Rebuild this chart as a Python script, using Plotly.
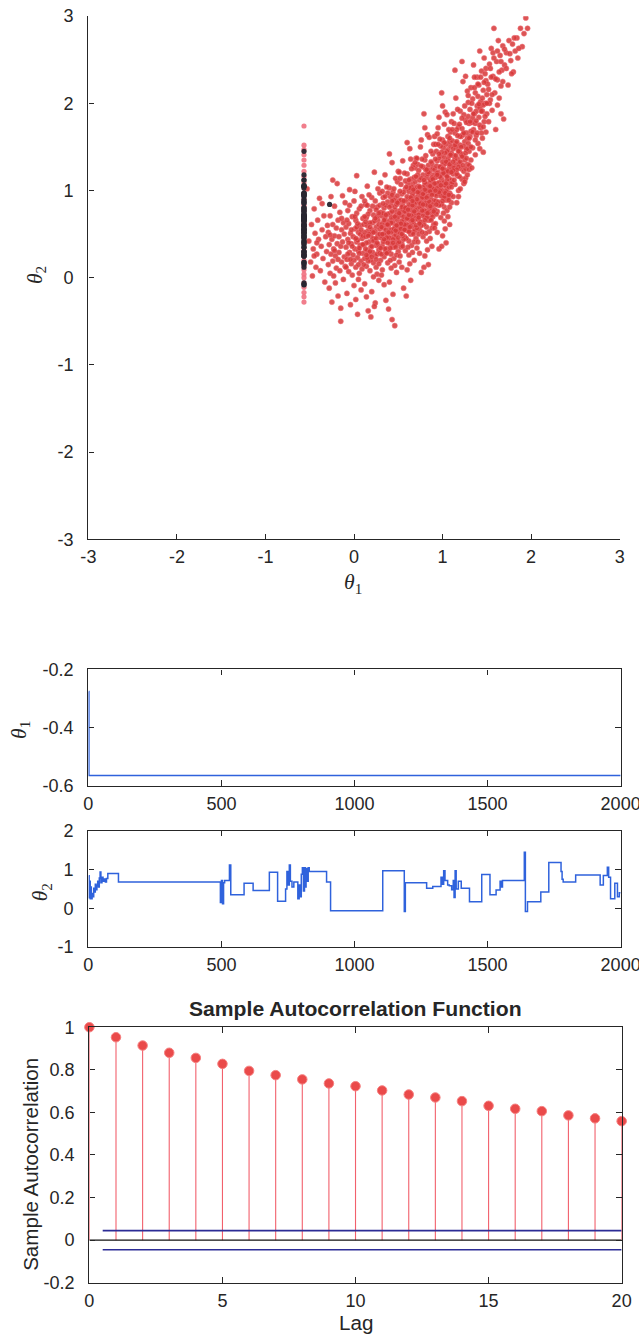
import plotly.graph_objects as go

# ---------------- posterior draws (theta1, theta2), grouped in theta1 bands ----------------
draws_band_a = [(-0.51, 0.42), (-0.49, 0.18), (-0.48, 0.61), (-0.47, 0.02), (-0.46, 0.33), (-0.45, 0.79),
                (-0.44, 0.51), (-0.43, 0.12), (-0.42, 0.27), (-0.41, 0.66), (-0.40, 0.44), (-0.39, 0.91),
                (-0.38, 0.08), (-0.37, 0.36), (-0.36, 0.55), (-0.35, 0.22), (-0.34, 0.71), (-0.33, -0.05),
                (-0.32, 0.47), (-0.31, 0.30), (-0.53, 1.02), (-0.45, 0.25), (-0.36, 0.85), (-0.30, 0.60),
                (-0.42, 0.40)]
draws_band_b = [(-0.29, 0.15), (-0.29, 0.52), (-0.28, -0.12), (-0.28, 0.38), (-0.27, 0.71), (-0.27, 0.05),
                (-0.26, 0.27), (-0.26, 0.93), (-0.25, 0.44), (-0.25, -0.28), (-0.24, 0.19), (-0.24, 0.61),
                (-0.23, 0.33), (-0.23, 0.02), (-0.22, 0.48), (-0.22, 0.82), (-0.21, 0.25), (-0.21, -0.06),
                (-0.20, 0.57), (-0.20, 0.11), (-0.19, 0.39), (-0.19, 1.08), (-0.18, 0.66), (-0.18, -0.21),
                (-0.17, 0.29), (-0.17, 0.47), (-0.16, 0.08), (-0.16, 0.75), (-0.15, 0.36), (-0.15, -0.35),
                (-0.14, 0.55), (-0.14, 0.18), (-0.13, 0.94), (-0.13, 0.41), (-0.12, -0.02), (-0.12, 0.63),
                (-0.11, 0.24), (-0.11, 0.50), (-0.10, 0.13), (-0.10, 0.86), (-0.27, 0.49), (-0.22, 0.31),
                (-0.18, 0.21), (-0.14, 0.68), (-0.24, 1.12), (-0.15, -0.50)]
draws_band_c = [(-0.09, 0.35), (-0.09, 0.58), (-0.08, -0.18), (-0.08, 0.21), (-0.07, 0.77), (-0.07, 0.44),
                (-0.06, 0.07), (-0.06, 0.62), (-0.05, 0.29), (-0.05, 1.01), (-0.04, 0.51), (-0.04, -0.31),
                (-0.03, 0.16), (-0.03, 0.39), (-0.02, 0.70), (-0.02, 0.03), (-0.01, 0.47), (-0.01, 0.26),
                (0.00, 0.88), (0.00, -0.09), (0.01, 0.33), (0.01, 0.56), (0.02, 0.12), (0.02, 0.66),
                (0.03, 0.41), (0.03, 1.17), (0.04, 0.23), (0.04, -0.42), (0.05, 0.52), (0.05, 0.31),
                (0.06, 0.79), (0.06, 0.05), (0.07, 0.37), (0.07, 0.60), (0.08, -0.14), (0.08, 0.19),
                (0.09, 0.45), (0.09, 0.93), (0.10, 0.28), (0.10, 0.68), (-0.09, 0.12), (-0.06, 0.40),
                (-0.03, 0.55), (0.00, 0.20), (0.03, 0.74), (0.06, 0.34), (0.09, 0.10), (-0.05, 0.83),
                (0.02, -0.25), (0.07, 0.50), (-0.08, 0.66), (0.04, 0.43), (0.01, 0.99), (-0.02, 0.36),
                (0.08, 0.82), (-0.04, 0.21), (0.05, -0.02), (0.10, 0.48), (-0.07, 0.27), (0.03, 0.58)]
draws_band_d = [(0.11, 0.38), (0.11, 0.61), (0.12, -0.07), (0.12, 0.22), (0.13, 0.84), (0.13, 0.47),
                (0.14, 0.13), (0.14, 0.69), (0.15, 0.31), (0.15, 1.05), (0.16, 0.54), (0.16, -0.38),
                (0.17, 0.26), (0.17, 0.41), (0.18, 0.77), (0.18, 0.08), (0.19, 0.50), (0.19, 0.35),
                (0.20, 0.92), (0.20, -0.16), (0.21, 0.29), (0.21, 0.63), (0.22, 0.17), (0.22, 0.72),
                (0.23, 0.44), (0.23, 1.21), (0.24, 0.25), (0.24, -0.29), (0.25, 0.58), (0.25, 0.37),
                (0.26, 0.81), (0.26, 0.04), (0.27, 0.49), (0.27, 0.66), (0.28, -0.03), (0.28, 0.32),
                (0.29, 0.56), (0.29, 0.97), (0.30, 0.20), (0.30, 0.75), (0.11, 0.15), (0.13, 0.33),
                (0.15, 0.60), (0.17, 0.95), (0.19, 0.20), (0.21, 0.45), (0.23, 0.65), (0.25, 0.12),
                (0.27, 0.38), (0.29, 0.83), (0.12, 0.52), (0.14, 0.40), (0.16, 0.73), (0.18, 0.30),
                (0.20, 0.55), (0.22, 0.42), (0.24, 0.88), (0.26, 0.27), (0.28, 0.61), (0.30, 0.46),
                (0.12, 0.88), (0.14, -0.22), (0.16, 0.19), (0.18, 0.63), (0.20, 0.36), (0.22, 0.01),
                (0.24, 0.53), (0.26, 0.70), (0.28, 0.16), (0.30, 1.09), (0.13, 0.64), (0.17, 0.50),
                (0.21, 0.82), (0.25, 0.45), (0.29, 0.28), (0.19, -0.45), (0.23, -0.33), (0.27, 1.02),
                (0.15, 0.23), (0.25, 0.78)]
draws_band_e = [(0.31, 0.48), (0.31, 0.71), (0.32, 0.09), (0.32, 0.36), (0.33, 0.92), (0.33, 0.57),
                (0.34, 0.24), (0.34, 0.80), (0.35, 0.42), (0.35, 1.18), (0.36, 0.63), (0.36, -0.26),
                (0.37, 0.33), (0.37, 0.51), (0.38, 0.87), (0.38, 0.17), (0.39, 0.60), (0.39, 0.45),
                (0.40, 1.03), (0.40, -0.05), (0.41, 0.39), (0.41, 0.74), (0.42, 0.27), (0.42, 0.83),
                (0.43, 0.54), (0.43, 1.32), (0.44, 0.35), (0.44, -0.19), (0.45, 0.68), (0.45, 0.47),
                (0.46, 0.91), (0.46, 0.14), (0.47, 0.59), (0.47, 0.77), (0.48, 0.06), (0.48, 0.43),
                (0.49, 0.66), (0.49, 1.10), (0.50, 0.30), (0.50, 0.86), (0.31, 0.27), (0.33, 0.41),
                (0.35, 0.68), (0.37, 1.04), (0.39, 0.30), (0.41, 0.55), (0.43, 0.76), (0.45, 0.22),
                (0.47, 0.49), (0.49, 0.94), (0.32, 0.62), (0.34, 0.50), (0.36, 0.83), (0.38, 0.40),
                (0.40, 0.65), (0.42, 0.52), (0.44, 0.98), (0.46, 0.37), (0.48, 0.72), (0.50, 0.57),
                (0.32, 0.99), (0.34, -0.08), (0.36, 0.29), (0.38, 0.73), (0.40, 0.46), (0.42, 0.11),
                (0.44, 0.63), (0.46, 0.81), (0.48, 0.26), (0.50, 1.22), (0.33, 0.74), (0.37, 0.61),
                (0.41, 0.93), (0.45, 0.56), (0.49, 0.39), (0.39, -0.36), (0.43, -0.48), (0.47, 1.14),
                (0.35, 0.33), (0.45, 0.89), (0.46, -0.55), (0.40, 1.42), (0.36, 0.55), (0.42, 0.69),
                (0.48, 0.84), (0.44, 0.44), (0.38, 0.97), (0.31, 0.03), (0.50, 0.70), (0.47, 0.35),
                (0.34, 0.66), (0.41, 0.20), (0.49, 0.53), (0.43, 0.88), (0.37, 0.46)]
draws_band_f = [(0.51, 0.62), (0.51, 0.88), (0.52, 0.25), (0.52, 0.51), (0.53, 1.07), (0.53, 0.72),
                (0.54, 0.39), (0.54, 0.96), (0.55, 0.58), (0.55, 1.34), (0.56, 0.79), (0.56, -0.12),
                (0.57, 0.47), (0.57, 0.66), (0.58, 1.02), (0.58, 0.31), (0.59, 0.75), (0.59, 0.60),
                (0.60, 1.19), (0.60, 0.09), (0.61, 0.54), (0.61, 0.90), (0.62, 0.42), (0.62, 0.99),
                (0.63, 0.69), (0.63, 1.48), (0.64, 0.50), (0.64, -0.03), (0.65, 0.84), (0.65, 0.63),
                (0.66, 1.07), (0.66, 0.29), (0.67, 0.74), (0.67, 0.93), (0.68, 0.20), (0.68, 0.57),
                (0.69, 0.81), (0.69, 1.26), (0.70, 0.45), (0.70, 1.02), (0.51, 0.41), (0.53, 0.56),
                (0.55, 0.83), (0.57, 1.20), (0.59, 0.45), (0.61, 0.70), (0.63, 0.91), (0.65, 0.37),
                (0.67, 0.64), (0.69, 1.10), (0.52, 0.77), (0.54, 0.65), (0.56, 0.98), (0.58, 0.55),
                (0.60, 0.80), (0.62, 0.67), (0.64, 1.13), (0.66, 0.52), (0.68, 0.87), (0.70, 0.72),
                (0.52, 1.14), (0.54, 0.12), (0.56, 0.44), (0.58, 0.88), (0.60, 0.61), (0.62, 0.26),
                (0.64, 0.78), (0.66, 0.96), (0.68, 0.41), (0.70, 1.37), (0.53, 0.89), (0.57, 0.76),
                (0.61, 1.08), (0.65, 0.71), (0.69, 0.54), (0.59, -0.21), (0.63, 0.16), (0.67, 1.29),
                (0.55, 0.48), (0.65, 1.04), (0.51, 0.18), (0.60, 1.55), (0.56, 0.70), (0.62, 0.84),
                (0.68, 0.99), (0.64, 0.59), (0.58, 1.11), (0.51, 1.21), (0.70, 0.86), (0.67, 0.50),
                (0.54, 0.81), (0.61, 0.35), (0.69, 0.68), (0.63, 1.03), (0.57, 0.61), (0.66, 0.83),
                (0.60, 0.93), (0.53, 0.35), (0.68, 1.15), (0.62, 0.53)]
draws_band_g = [(0.71, 0.78), (0.71, 1.04), (0.72, 0.41), (0.72, 0.67), (0.73, 1.23), (0.73, 0.88),
                (0.74, 0.55), (0.74, 1.12), (0.75, 0.74), (0.75, 1.50), (0.76, 0.95), (0.76, 0.06),
                (0.77, 0.63), (0.77, 0.82), (0.78, 1.18), (0.78, 0.47), (0.79, 0.91), (0.79, 0.76),
                (0.80, 1.35), (0.80, 0.25), (0.81, 0.70), (0.81, 1.06), (0.82, 0.58), (0.82, 1.15),
                (0.83, 0.85), (0.83, 1.64), (0.84, 0.66), (0.84, 0.15), (0.85, 1.00), (0.85, 0.79),
                (0.86, 1.23), (0.86, 0.45), (0.87, 0.90), (0.87, 1.09), (0.88, 0.36), (0.88, 0.73),
                (0.89, 0.97), (0.89, 1.42), (0.90, 0.61), (0.90, 1.18), (0.71, 0.57), (0.73, 0.72),
                (0.75, 0.99), (0.77, 1.36), (0.79, 0.61), (0.81, 0.86), (0.83, 1.07), (0.85, 0.53),
                (0.87, 0.80), (0.89, 1.26), (0.72, 0.93), (0.74, 0.81), (0.76, 1.14), (0.78, 0.71),
                (0.80, 0.96), (0.82, 0.83), (0.84, 1.29), (0.86, 0.68), (0.88, 1.03), (0.90, 0.88),
                (0.72, 1.30), (0.74, 0.28), (0.76, 0.60), (0.78, 1.04), (0.80, 0.77), (0.82, 0.42),
                (0.84, 0.94), (0.86, 1.12), (0.88, 0.57), (0.90, 1.53), (0.73, 1.05), (0.77, 0.92),
                (0.81, 1.24), (0.85, 0.87), (0.89, 0.70), (0.79, 0.12), (0.83, 0.32), (0.87, 1.45),
                (0.75, 0.64), (0.85, 1.20), (0.71, 0.34), (0.80, 1.72), (0.76, 0.86), (0.82, 1.00),
                (0.88, 1.15), (0.84, 0.75), (0.78, 1.27), (0.71, 1.37), (0.90, 1.02), (0.87, 0.66),
                (0.74, 0.97), (0.81, 0.51), (0.89, 0.84), (0.83, 1.19), (0.77, 0.77), (0.86, 0.99),
                (0.80, 1.09), (0.73, 0.50), (0.88, 1.31), (0.82, 0.69), (0.79, 1.88), (0.85, 1.61),
                (0.76, 1.58)]
draws_band_h = [(0.91, 0.96), (0.91, 1.24), (0.92, 0.62), (0.92, 0.88), (0.93, 1.45), (0.93, 1.08),
                (0.94, 0.76), (0.94, 1.34), (0.95, 0.97), (0.95, 1.72), (0.96, 1.17), (0.96, 0.33),
                (0.97, 0.85), (0.97, 1.03), (0.98, 1.40), (0.98, 0.69), (0.99, 1.13), (0.99, 0.98),
                (1.00, 1.58), (1.00, 0.48), (1.01, 0.92), (1.01, 1.29), (1.02, 0.81), (1.02, 1.38),
                (1.03, 1.07), (1.03, 1.90), (1.04, 0.89), (1.04, 0.40), (1.05, 1.23), (1.05, 1.02),
                (1.06, 1.47), (1.06, 0.70), (1.07, 1.14), (1.07, 1.33), (1.08, 0.61), (1.08, 0.97),
                (1.09, 1.21), (1.09, 1.67), (1.10, 0.86), (1.10, 1.43), (0.91, 0.78), (0.93, 0.94),
                (0.95, 1.21), (0.97, 1.59), (0.99, 0.84), (1.01, 1.09), (1.03, 1.31), (1.05, 0.77),
                (1.07, 1.04), (1.09, 1.51), (0.92, 1.15), (0.94, 1.03), (0.96, 1.37), (0.98, 0.94),
                (1.00, 1.19), (1.02, 1.06), (1.04, 1.53), (1.06, 0.92), (1.08, 1.27), (1.10, 1.12),
                (0.92, 1.53), (0.94, 0.52), (0.96, 0.83), (0.98, 1.27), (1.00, 1.00), (1.02, 0.65),
                (1.04, 1.18), (1.06, 1.36), (1.08, 0.81), (1.10, 1.79), (0.93, 1.28), (0.97, 1.16),
                (1.01, 1.49), (1.05, 1.12), (1.09, 0.95), (0.99, 0.36), (1.03, 0.56), (1.07, 1.70),
                (0.95, 0.87), (1.05, 1.45), (0.91, 0.57), (1.00, 1.97), (0.96, 1.09), (1.02, 1.24),
                (1.08, 1.40), (1.04, 0.99), (0.98, 1.51), (0.91, 1.62), (1.10, 1.26), (1.07, 0.89),
                (0.94, 1.20), (1.01, 0.74), (1.09, 1.08), (1.03, 1.43), (0.97, 1.00), (1.06, 1.22),
                (1.00, 1.33), (0.93, 0.73), (1.08, 1.56), (1.02, 0.93), (0.99, 2.12), (1.05, 1.87),
                (0.96, 1.84)]
draws_band_i = [(1.11, 1.28), (1.11, 1.57), (1.12, 0.93), (1.12, 1.19), (1.13, 1.77), (1.13, 1.40),
                (1.14, 1.07), (1.14, 1.66), (1.15, 1.30), (1.15, 2.06), (1.16, 1.49), (1.16, 0.86),
                (1.17, 1.17), (1.17, 1.36), (1.18, 1.73), (1.18, 1.00), (1.19, 1.45), (1.19, 1.31),
                (1.20, 1.91), (1.20, 1.02), (1.21, 1.25), (1.21, 1.62), (1.22, 1.13), (1.22, 1.71),
                (1.23, 1.40), (1.23, 2.25), (1.24, 1.22), (1.24, 1.08), (1.25, 1.56), (1.25, 1.35),
                (1.26, 1.81), (1.26, 1.14), (1.27, 1.47), (1.27, 1.66), (1.28, 1.18), (1.28, 1.30),
                (1.29, 1.54), (1.29, 2.01), (1.30, 1.29), (1.30, 1.77), (1.11, 1.09), (1.13, 1.26),
                (1.15, 1.54), (1.17, 1.93), (1.19, 1.16), (1.21, 1.42), (1.23, 1.64), (1.25, 1.10),
                (1.27, 1.37), (1.29, 1.85), (1.12, 1.48), (1.14, 1.36), (1.16, 1.70), (1.18, 1.27),
                (1.20, 1.52), (1.22, 1.39), (1.24, 1.87), (1.26, 1.25), (1.28, 1.60), (1.30, 1.45),
                (1.12, 1.88), (1.16, 1.19), (1.20, 1.62), (1.24, 1.51), (1.28, 2.14), (1.14, 2.38),
                (1.22, 2.48), (1.18, 0.93), (1.26, 2.31), (1.30, 1.24)]
draws_band_j = [(1.31, 1.62), (1.31, 1.93), (1.32, 1.35), (1.32, 2.18), (1.33, 1.78), (1.34, 1.49),
                (1.34, 2.05), (1.35, 1.70), (1.35, 2.44), (1.36, 1.88), (1.37, 1.41), (1.37, 2.12),
                (1.38, 1.63), (1.39, 1.97), (1.39, 2.30), (1.40, 1.54), (1.41, 1.84), (1.41, 2.21),
                (1.42, 1.48), (1.43, 2.02), (1.43, 1.72), (1.44, 2.37), (1.45, 1.91), (1.45, 1.60),
                (1.46, 2.15), (1.47, 1.79), (1.47, 2.52), (1.48, 2.00), (1.49, 1.67), (1.49, 2.26),
                (1.50, 1.88), (1.33, 1.26), (1.36, 2.30), (1.38, 1.91), (1.40, 2.08), (1.42, 1.95),
                (1.44, 1.66), (1.46, 1.44), (1.48, 2.34), (1.50, 2.10), (1.32, 1.68), (1.37, 1.77),
                (1.42, 2.60), (1.46, 1.98), (1.34, 1.83)]
draws_band_k = [(1.51, 2.22), (1.52, 1.79), (1.53, 2.45), (1.54, 2.04), (1.55, 2.63), (1.56, 1.92),
                (1.57, 2.31), (1.58, 2.86), (1.59, 2.12), (1.60, 1.70), (1.61, 2.48), (1.62, 2.27),
                (1.63, 2.72), (1.64, 2.06), (1.65, 2.55), (1.66, 1.88), (1.67, 2.38), (1.68, 2.66),
                (1.69, 1.82), (1.70, 2.44), (1.53, 2.00), (1.57, 2.58), (1.62, 1.98), (1.66, 2.20),
                (1.55, 2.30)]
draws_band_l = [(1.72, 2.58), (1.74, 2.21), (1.75, 2.72), (1.77, 2.49), (1.79, 2.68), (1.80, 2.36),
                (1.82, 2.60), (1.84, 2.75), (1.85, 2.52), (1.88, 2.86), (1.90, 2.65), (1.92, 2.80),
                (1.96, 2.86), (1.94, 2.98)]
# extra draws along the dense ridge of the banana
draws_ridge = [(0.02, 0.45), (0.04, 0.62), (0.06, 0.28), (0.08, 0.55), (0.10, 0.38), (0.12, 0.70),
               (0.14, 0.26), (0.16, 0.48), (0.18, 0.58), (0.20, 0.24), (0.22, 0.52), (0.24, 0.68),
               (0.26, 0.40), (0.28, 0.74), (0.30, 0.34), (0.05, 0.15), (0.15, 0.83), (0.25, 0.21),
               (0.01, 0.70), (0.29, 0.50),
               (0.31, 0.58), (0.33, 0.85), (0.34, 0.44), (0.36, 0.72), (0.37, 0.28), (0.39, 0.52),
               (0.40, 0.81), (0.42, 0.63), (0.43, 0.95), (0.44, 0.40), (0.46, 0.70), (0.47, 0.54),
               (0.49, 0.86), (0.50, 0.46), (0.52, 0.99), (0.53, 0.62), (0.55, 0.36), (0.56, 0.88),
               (0.57, 0.55), (0.59, 1.04), (0.32, 0.50), (0.35, 0.93), (0.38, 0.61), (0.41, 0.34),
               (0.45, 1.02), (0.48, 0.60), (0.51, 0.74), (0.54, 0.50), (0.58, 0.80), (0.60, 0.68),
               (0.61, 0.78), (0.62, 1.12), (0.63, 0.58), (0.64, 0.92), (0.65, 1.25), (0.66, 0.66),
               (0.67, 1.01), (0.68, 0.76), (0.69, 1.32), (0.70, 0.60), (0.71, 0.90), (0.72, 1.18),
               (0.73, 0.69), (0.74, 1.04), (0.75, 0.85), (0.76, 1.28), (0.77, 0.52), (0.78, 0.96),
               (0.79, 1.12), (0.80, 0.66), (0.81, 1.40), (0.82, 0.92), (0.83, 0.74), (0.84, 1.21),
               (0.85, 1.05), (0.86, 0.82), (0.87, 1.33), (0.88, 0.95), (0.89, 1.13), (0.90, 0.76),
               (0.62, 0.72), (0.66, 0.88), (0.70, 1.16), (0.74, 0.62), (0.78, 0.84), (0.82, 1.24),
               (0.86, 1.05), (0.64, 1.36), (0.72, 0.98), (0.80, 1.01),
               (0.91, 1.08), (0.92, 1.36), (0.93, 0.84), (0.94, 1.18), (0.95, 1.53), (0.96, 0.98),
               (0.97, 1.27), (0.98, 1.06), (0.99, 1.44), (1.00, 0.88), (1.01, 1.20), (1.02, 1.55),
               (1.03, 0.97), (1.04, 1.33), (1.05, 1.16), (1.06, 1.62), (1.07, 0.95), (1.08, 1.30),
               (1.09, 1.41), (1.10, 1.04), (1.11, 1.70), (1.12, 1.33), (1.13, 1.12), (1.14, 1.52),
               (1.15, 1.40), (1.16, 1.24), (1.17, 1.63), (1.18, 1.45), (1.19, 1.76), (1.20, 1.33),
               (0.92, 1.00), (0.96, 1.42), (1.00, 1.25), (1.04, 1.08), (1.08, 1.60), (1.12, 1.23),
               (1.16, 1.56), (0.94, 1.65), (1.02, 1.76), (1.10, 1.21),
               (1.21, 1.50), (1.22, 1.83), (1.23, 1.29), (1.24, 1.66), (1.25, 1.97), (1.26, 1.43),
               (1.27, 1.78), (1.28, 1.48), (1.29, 2.09), (1.30, 1.60), (1.31, 1.79), (1.32, 1.50),
               (1.33, 2.00), (1.34, 1.67), (1.35, 1.88), (1.36, 2.18), (1.37, 1.58), (1.38, 1.80),
               (1.39, 1.66), (1.40, 2.22), (1.41, 1.99), (1.42, 1.75), (1.43, 2.30), (1.44, 1.91),
               (1.45, 2.06), (1.46, 1.73), (1.47, 2.24), (1.48, 1.85), (1.49, 2.40), (1.50, 2.00),
               (1.52, 2.16), (1.54, 2.40), (1.56, 2.10), (1.58, 2.52), (1.60, 2.28), (1.62, 2.60),
               (1.64, 2.36), (1.66, 2.48), (1.68, 2.25), (1.70, 2.62), (1.72, 2.40), (1.76, 2.57),
               (1.78, 2.34), (1.81, 2.75), (1.86, 2.63)]

posterior_draws = (draws_band_a + draws_band_b + draws_band_c + draws_band_d + draws_band_e +
                   draws_band_f + draws_band_g + draws_band_h + draws_band_i + draws_band_j +
                   draws_band_k + draws_band_l + draws_ridge)
theta1_draws = [p[0] for p in posterior_draws]
theta2_draws = [p[1] for p in posterior_draws]

# draws that share the stuck theta1 value
column_theta2 = [-0.28, -0.22, -0.17, -0.11, -0.06, 0.00, 0.04, 0.09, 0.14, 0.20, 0.27, 0.33, 0.39,
                 0.46, 0.52, 0.58, 0.64, 0.71, 0.77, 0.83, 0.90, 0.96, 1.03, 1.09, 1.16, 1.22, 1.29,
                 1.35, 1.41, 1.47, 1.52, 1.74]

# ---------------- MCMC chain ----------------
start_theta1 = -0.276
stuck_theta1 = -0.565
chain1_iter = [1, 2, 2000]
chain1_theta1 = [start_theta1, stuck_theta1, stuck_theta1]

chain_iter = [1, 3, 5, 7, 9, 11, 14, 17, 20, 23, 26, 29, 32, 35, 38, 41, 44, 47, 51, 55, 59, 64, 68,
              73, 113, 496, 500, 504, 508, 512, 530, 535, 585, 619, 680, 711, 741, 746, 750, 755, 759,
              765, 772, 787, 792, 796, 800, 804, 808, 812, 815, 818, 822, 826, 830, 895, 910, 1106,
              1187, 1191, 1271, 1294, 1325, 1330, 1335, 1340, 1350, 1356, 1365, 1371, 1374, 1378,
              1382, 1390, 1401, 1432, 1478, 1509, 1532, 1547, 1552, 1556, 1638, 1642, 1650, 1700,
              1730, 1776, 1780, 1784, 1831, 1923, 1935, 1950, 1955, 1962, 1978, 1988, 1995, 2000]
chain_theta2 = [0.84, 0.27, 0.70, 0.25, 0.55, 0.25, 0.38, 0.30, 0.52, 0.42, 0.62, 0.48, 0.58, 0.70,
                0.55, 0.78, 0.94, 0.66, 0.80, 0.70, 0.76, 0.68, 0.77, 0.90, 0.68, 0.15, 0.72, 0.12,
                0.66, 0.72, 1.12, 0.35, 0.65, 0.46, 0.93, 0.18, 0.50, 0.95, 0.60, 1.12, 0.70, 0.55,
                0.68, 0.25, 0.60, 0.30, 0.88, 1.05, 0.45, 1.05, 0.55, 1.03, 0.70, 1.05, 0.95, 0.68,
                -0.06, 0.97, -0.08, 0.66, 0.52, 0.56, 0.80, 0.62, 0.97, 0.72, 0.60, 0.58, 0.48, 0.72,
                0.28, 0.97, 0.50, 0.70, 0.52, 0.17, 0.87, 0.35, 0.47, 0.70, 0.55, 0.72, 1.45, -0.08,
                0.17, 0.42, 1.18, 0.95, 0.75, 0.68, 0.86, 0.60, 0.85, 1.06, 0.80, 0.25, 0.65, 0.30,
                0.40, 0.40]

# ---------------- sample autocorrelation ----------------
acf_lags = list(range(21))
acf_values = [1.000, 0.953, 0.914, 0.880, 0.856, 0.828, 0.795, 0.775, 0.755, 0.736, 0.723,
              0.703, 0.684, 0.670, 0.653, 0.631, 0.617, 0.606, 0.586, 0.572, 0.559]
acf_bound = 0.0447

# ---------------- page geometry ----------------
# Layout is specified in target-image pixels (639 x 1338); the page is captured from a
# slightly larger surface, so positions are converted into figure pixels here.
IMG_W, IMG_H = 639, 1338
CAP_W, CAP_H = 668, 1361
BODY_MARGIN = 8
SX, SY = CAP_W / IMG_W, CAP_H / IMG_H
W, H = CAP_W - 2 * BODY_MARGIN, CAP_H - 2 * BODY_MARGIN
FS = (SX * SY) ** 0.5          # size factor for fonts and markers
INK = "#262626"
SANS = "Liberation Sans, Arial, Helvetica, sans-serif"
SERIF = "Liberation Serif, Times New Roman, serif"


def px_x(px):
    """target x pixel -> figure paper fraction"""
    return (px * SX - BODY_MARGIN) / W


def px_y(py):
    """target y pixel (from top) -> figure paper fraction"""
    return 1 - (py * SY - BODY_MARGIN) / H


def axis(box, tickvals, rng, domain, anchor, standoff):
    return dict(
        domain=domain, anchor=anchor, range=rng,
        showline=True, linecolor=INK, linewidth=1.25,
        mirror="ticks" if box else False,
        ticks="inside", ticklen=5.5, tickwidth=1, tickcolor=INK,
        tickvals=tickvals, ticktext=["%g" % v for v in tickvals],
        tickfont=dict(family=SANS, size=17.5 * FS, color=INK),
        ticklabelstandoff=standoff,
        showgrid=False, zeroline=False, fixedrange=True,
    )


fig = go.Figure()

# scatter panel
fig.add_trace(go.Scatter(
    x=theta1_draws, y=theta2_draws, mode="markers", xaxis="x", yaxis="y",
    marker=dict(size=5.2, color="rgba(214,56,56,0.86)",
                line=dict(width=0.6, color="rgba(238,115,125,0.9)")),
    showlegend=False, hoverinfo="skip"))
fig.add_trace(go.Scatter(
    x=[stuck_theta1] * len(column_theta2), y=column_theta2, mode="markers", xaxis="x", yaxis="y",
    marker=dict(size=5.2, color="rgba(240,112,128,0.9)", line=dict(width=0)),
    showlegend=False, hoverinfo="skip"))
chain_pts_x = [start_theta1] + [stuck_theta1] * (len(chain_theta2) - 1)
fig.add_trace(go.Scatter(
    x=chain_pts_x, y=chain_theta2, mode="markers", xaxis="x", yaxis="y",
    marker=dict(size=5.2, color="rgba(40,38,48,0.95)", line=dict(width=0)),
    showlegend=False, hoverinfo="skip"))

# theta1 trace
fig.add_trace(go.Scatter(
    x=chain1_iter, y=chain1_theta1, mode="lines", line=dict(color="#2f62dc", width=1.5, shape="hv"),
    xaxis="x2", yaxis="y2", showlegend=False, hoverinfo="skip"))

# theta2 trace
fig.add_trace(go.Scatter(
    x=chain_iter, y=chain_theta2, mode="lines", line=dict(color="#2f62dc", width=1.5, shape="hv"),
    xaxis="x3", yaxis="y3", showlegend=False, hoverinfo="skip"))

# ACF stems
stem_x, stem_y = [], []
for lag, val in zip(acf_lags, acf_values):
    stem_x += [lag, lag, None]
    stem_y += [0, val, None]
fig.add_trace(go.Scatter(
    x=stem_x, y=stem_y, mode="lines", line=dict(color="rgb(242,96,108)", width=1.1),
    xaxis="x4", yaxis="y4", showlegend=False, hoverinfo="skip", cliponaxis=False))
fig.add_trace(go.Scatter(
    x=[acf_lags[0], acf_lags[-1]], y=[0, 0], mode="lines", line=dict(color="#111111", width=1.3),
    xaxis="x4", yaxis="y4", showlegend=False, hoverinfo="skip"))
for sign in (1, -1):
    fig.add_trace(go.Scatter(
        x=[0.5, acf_lags[-1]], y=[sign * acf_bound] * 2, mode="lines",
        line=dict(color="rgb(44,44,150)", width=1.6),
        xaxis="x4", yaxis="y4", showlegend=False, hoverinfo="skip"))
fig.add_trace(go.Scatter(
    x=acf_lags, y=acf_values, mode="markers", cliponaxis=False,
    marker=dict(size=9.5, color="rgb(234,74,74)", line=dict(width=1, color="rgb(246,128,128)")),
    xaxis="x4", yaxis="y4", showlegend=False, hoverinfo="skip"))

x_dom = [px_x(88), px_x(620)]
scatter_ticks = [-3, -2, -1, 0, 1, 2, 3]
iter_ticks = [0, 500, 1000, 1500, 2000]
t1_ticks = [-0.6, -0.4, -0.2]
t2_ticks = [-1, 0, 1, 2]
acf_yticks = [-0.2, 0, 0.2, 0.4, 0.6, 0.8, 1]
acf_xticks = [0, 5, 10, 15, 20]

fig.update_layout(
    width=W, height=H, margin=dict(l=0, r=0, t=0, b=0),
    paper_bgcolor="white", plot_bgcolor="white",
    xaxis=axis(False, scatter_ticks, [-3, 3], [px_x(88), px_x(619)], "y", 1),
    yaxis=axis(False, scatter_ticks, [-3, 3], [px_y(536), px_y(14)], "x", 10),
    xaxis2=axis(True, iter_ticks, [0, 2000], x_dom, "y2", 1),
    yaxis2=axis(True, t1_ticks, [-0.6, -0.2], [px_y(782), px_y(666)], "x2", 10),
    xaxis3=axis(True, iter_ticks, [0, 2000], x_dom, "y3", 1),
    yaxis3=axis(True, t2_ticks, [-1, 2], [px_y(943), px_y(827)], "x3", 10),
    xaxis4=axis(True, acf_xticks, [0, 20], [px_x(89), px_x(621)], "y4", 1),
    yaxis4=axis(True, acf_yticks, [-0.2, 1], [px_y(1278), px_y(1023)], "x4", 10),
)

label_font = dict(family=SERIF, size=21 * FS, color=INK)
annotations = [
    dict(text="<i>θ</i><sub>1</sub>", x=px_x(352), y=px_y(580), textangle=0),
    dict(text="<i>θ</i><sub>2</sub>", x=px_x(36), y=px_y(272), textangle=-90),
    dict(text="<i>θ</i><sub>1</sub>", x=px_x(20), y=px_y(726), textangle=-90),
    dict(text="<i>θ</i><sub>2</sub>", x=px_x(42), y=px_y(888), textangle=-90),
]
for a in annotations:
    fig.add_annotation(xref="paper", yref="paper", showarrow=False,
                       xanchor="center", yanchor="middle", font=label_font, **a)

fig.add_annotation(text="<b>Sample Autocorrelation Function</b>", xref="paper", yref="paper",
                   x=px_x(355), y=px_y(1004), showarrow=False, xanchor="center", yanchor="middle",
                   font=dict(family=SANS, size=20.5 * FS, color=INK))
fig.add_annotation(text="Sample Autocorrelation", xref="paper", yref="paper",
                   x=px_x(30), y=px_y(1160), showarrow=False, textangle=-90,
                   xanchor="center", yanchor="middle", font=dict(family=SANS, size=20 * FS, color=INK))
fig.add_annotation(text="Lag", xref="paper", yref="paper",
                   x=px_x(355), y=px_y(1318), showarrow=False,
                   xanchor="center", yanchor="middle", font=dict(family=SANS, size=20 * FS, color=INK))

fig.write_html("out.html")
